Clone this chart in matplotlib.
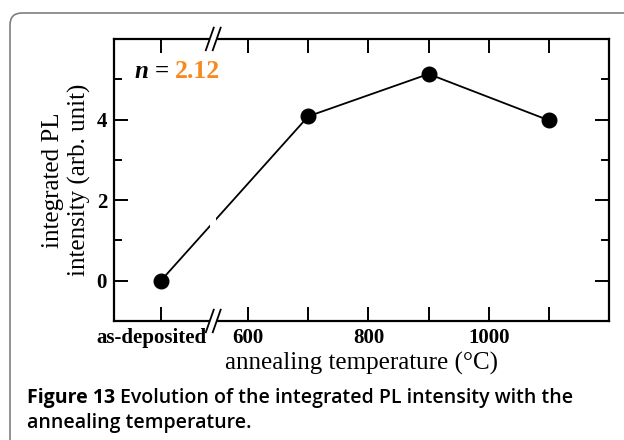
import matplotlib
matplotlib.use('Agg')
import matplotlib.pyplot as plt
import matplotlib.transforms as mtrans
from matplotlib.patches import FancyBboxPatch, Rectangle
from matplotlib.lines import Line2D

# data
temps = [455, 700, 900, 1100]          # 455 = position used for "as-deposited"
intensity = [0.0, 4.08, 5.13, 3.98]
xtick_pos = [455, 600, 800, 1000]
xtick_labels = ['as-deposited', '600', '800', '1000']
xminor_pos = [700, 900, 1100]
ytick_pos = [0, 2, 4]
yminor_pos = [1, 3, 5]
break_x = 542
n_value = '2.12'

serif = 'Liberation Serif'

fig = plt.figure(figsize=(6.24, 4.4), dpi=100)
ax = fig.add_axes([0.1827, 0.2705, 0.7933, 0.641])

ax.plot(temps, intensity, color='black', lw=1.3, marker='o', ms=10.5, zorder=3)

ax.set_xlim(377, 1200)
ax.set_ylim(-1, 6)
ax.set_xticks(xtick_pos)
ax.set_xticklabels(xtick_labels)
ax.set_xticks(xminor_pos, minor=True)
ax.set_yticks(ytick_pos)
ax.set_yticks(yminor_pos, minor=True)

ax.tick_params(which='both', direction='in', top=True, right=True, width=1.4)
ax.tick_params(axis='x', which='both', length=10, pad=5)
ax.tick_params(axis='y', which='major', length=10, pad=5)
ax.tick_params(axis='y', which='minor', length=6)
for lab in ax.get_xticklabels() + ax.get_yticklabels():
    lab.set_fontfamily(serif)
    lab.set_fontweight('bold')
    lab.set_fontsize(15)
# the as-deposited label sits a bit left of its tick
first = ax.get_xticklabels()[0]
first.set_transform(first.get_transform() + mtrans.ScaledTranslation(-0.09, 0, fig.dpi_scale_trans))
for sp in ax.spines.values():
    sp.set_linewidth(1.6)

ax.set_xlabel('annealing temperature (°C)', fontfamily=serif, fontsize=18, labelpad=3)
ax.set_ylabel('integrated PL\nintensity (arb. unit)', fontfamily=serif, fontsize=18,
              labelpad=4, linespacing=1.25)

# n = 2.12 annotation
fig.canvas.draw()
r = fig.canvas.get_renderer()
tx, ty = 0.042, 0.885
t = ax.text(tx, ty, 'n', transform=ax.transAxes, fontfamily=serif, fontsize=18,
            fontweight='bold', fontstyle='italic', va='center', ha='left', zorder=8)
x0 = t.get_window_extent(r).x1 + 6
t = ax.text(x0, ax.transAxes.transform((0, ty))[1], '=', transform=None, fontfamily=serif,
            fontsize=18, fontweight='bold', va='center', ha='left', zorder=8)
x0 = t.get_window_extent(r).x1 + 6
ax.text(x0, ax.transAxes.transform((0, ty))[1], n_value, transform=None, fontfamily=serif,
        fontsize=18.5, fontweight='bold', color='#f7891f', va='center', ha='left', zorder=8)

# axis break: white band with slanted marks top and bottom
bx = ax.transData.transform((break_x, 0))[0]
bx_ax = ax.transAxes.inverted().transform((bx, 0))[0]
ax.add_patch(Rectangle((bx_ax - 0.006, -0.02), 0.012, 1.04, transform=ax.transAxes,
                       facecolor='white', edgecolor='none', clip_on=False, zorder=5))
for yc in (0.0, 1.0):
    for dx in (-0.007, 0.007):
        ax.add_line(Line2D([bx_ax + dx - 0.008, bx_ax + dx + 0.008], [yc - 0.04, yc + 0.04],
                           transform=ax.transAxes, color='black', lw=1.3,
                           clip_on=False, zorder=6))

# rounded border of the figure panel
fig.patches.append(FancyBboxPatch((10, -30), 700, 440 - 13 + 30,
                                  boxstyle='round,pad=0,rounding_size=12',
                                  transform=None, facecolor='none',
                                  edgecolor='#7f7f7f', lw=1.2))

# caption
cap1 = fig.text(27 / 624, 1 - 398 / 440, 'Figure 13', fontfamily='Open Sans',
                fontweight='bold', fontsize=14, va='center', ha='left')
fig.canvas.draw()
bb = cap1.get_window_extent()
fig.text((bb.x1 + 5) / 624, 1 - 398 / 440,
         'Evolution of the integrated PL intensity with the',
         fontfamily='Open Sans', fontweight='semibold', fontsize=14, va='center', ha='left')
fig.text(27 / 624, 1 - 423 / 440, 'annealing temperature.', fontfamily='Open Sans',
         fontweight='semibold', fontsize=14, va='center', ha='left')

fig.savefig('out.png', dpi=100)
